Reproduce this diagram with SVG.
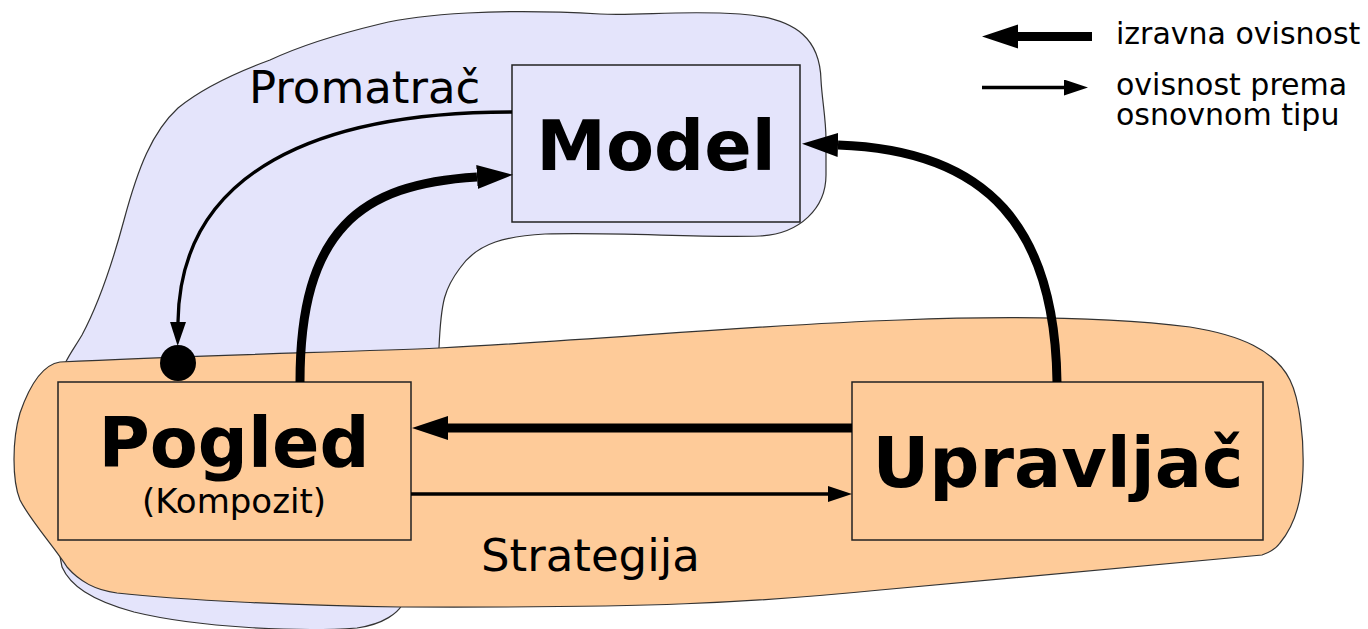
<svg xmlns="http://www.w3.org/2000/svg" width="1368" height="629" viewBox="0 0 1368 629">
  <style>
    .blob { stroke: #333; stroke-width: 1.2; }
    .observer { fill: #e4e4fb; }
    .strategy { fill: #fecb99; }
    .box { stroke: #222; stroke-width: 1.5; }
    .title { font-family: "DejaVu Sans", sans-serif; font-weight: bold; font-size: 70px; text-anchor: middle; fill: #000; }
    .label { font-family: "DejaVu Sans", sans-serif; font-size: 45px; fill: #000; }
    .sub { font-family: "DejaVu Sans", sans-serif; font-size: 34px; text-anchor: middle; fill: #000; }
    .legend { font-family: "DejaVu Sans", sans-serif; font-size: 30px; fill: #000; }
    .thick { fill: none; stroke: #000; stroke-width: 9; }
    .thin { fill: none; stroke: #000; stroke-width: 3.3; }
  </style>
  <defs>
    <marker id="headThick" markerUnits="userSpaceOnUse" markerWidth="36" markerHeight="26" refX="0" refY="12" orient="auto" viewBox="0 0 36 24">
      <path d="M0,0 L36,12 L0,24 Z" fill="#000"/>
    </marker>
    <marker id="headThin" markerUnits="userSpaceOnUse" markerWidth="24" markerHeight="16" refX="0" refY="8" orient="auto" viewBox="0 0 24 16">
      <path d="M0,0 L24,8 L0,16 Z" fill="#000"/>
    </marker>
  </defs>

  <!-- pattern regions -->
  <g id="observer-region">
    <path class="blob observer" d="M439,362 L439,348 C441,300 445,288 460,268 C478,242 508,236 545,234 C620,232 700,238 760,236 C800,234 826,208 826,175 L826,140 C826,118 822,100 821,80 C820,42 800,18 740,14 C680,10 640,16 600,14 C500,8 420,14 380,24 C330,36 300,46 270,60 C232,74 200,90 178,108 C152,132 138,168 124,220 C110,272 98,305 82,335 C72,352 63,362 60,380 C54,420 52,520 62,567 C70,585 90,600 134,612 C200,628 300,632 357,628 C385,624 398,612 402,605 Z"/>
    <text class="label" x="249" y="103">Promatrač</text>
  </g>

  <g id="strategy-region">
    <path class="blob strategy" d="M60,362 C200,355 350,352 439,348 C600,340 750,325 900,320 C1000,316 1100,316 1190,327 C1240,335 1275,350 1290,380 C1300,400 1304,440 1303,470 C1302,500 1295,525 1280,543 C1275,550 1268,553 1262,555 L880,590 C750,603 650,608 400,607 C300,606 180,600 117,593 C95,590 80,582 67,567 C55,548 30,520 20,500 C12,480 12,440 20,413 C28,390 40,365 60,362 Z"/>
    <text class="label" x="481" y="571">Strategija</text>
  </g>

  <!-- nodes -->
  <g id="model">
    <rect class="box observer" x="512" y="65" width="288" height="157"/>
    <text class="title" x="656" y="170">Model</text>
  </g>

  <g id="pogled">
    <rect class="box strategy" x="58" y="382" width="353" height="158"/>
    <text class="title" x="234" y="467">Pogled</text>
    <text class="sub" x="234" y="513">(Kompozit)</text>
  </g>

  <g id="upravljac">
    <rect class="box strategy" x="852" y="382" width="411" height="158"/>
    <text class="title" x="1058" y="487">Upravljač</text>
  </g>

  <!-- connectors -->
  <g id="connectors">
    <!-- Model notifies Pogled (observer) -->
    <path class="thin" d="M512,112 C320,112 180,170 178,322" marker-end="url(#headThin)"/>
    <circle cx="178" cy="363" r="18" fill="#000"/>
    <!-- Pogled uses Model -->
    <path class="thick" d="M300,382 C300,230 360,184 477,177" marker-end="url(#headThick)"/>
    <!-- Upravljac uses Model -->
    <path class="thick" d="M1057,382 C1055,230 990,150 838,145" marker-end="url(#headThick)"/>
    <!-- Upravljac drives Pogled -->
    <path class="thick" d="M852,428 L448,428" marker-end="url(#headThick)"/>
    <!-- Pogled delegates to Upravljac (strategy) -->
    <path class="thin" d="M411,494 L828,494" marker-end="url(#headThin)"/>
  </g>

  <!-- legend -->
  <g id="legend">
    <path class="thick" d="M1092,36.5 L1018,36.5" marker-end="url(#headThick)"/>
    <text class="legend" x="1116" y="44">izravna ovisnost</text>
    <path class="thin" d="M982,87.5 L1064,87.5" marker-end="url(#headThin)"/>
    <text class="legend" x="1116" y="95">ovisnost prema<tspan x="1116" y="125">osnovnom tipu</tspan></text>
  </g>
</svg>
